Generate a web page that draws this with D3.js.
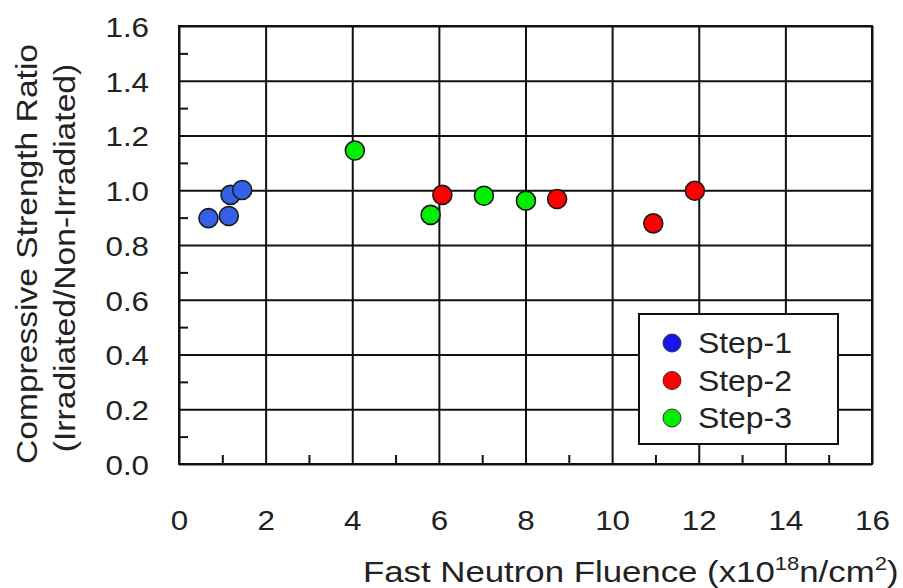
<!DOCTYPE html>
<html>
  <head>
    <style>
      body {
        margin: 0;
        background: #fff;
      }
      svg text {
        font-family: "Liberation Sans", Arial, sans-serif;
        fill: #222;
      }
    </style>
    <script src="https://d3js.org/d3.v7.min.js"></script>
  </head>
  <body>
    <script>
      // data
      const step1X = [0.68, 1.15, 1.19, 1.46];
      const step1Y = [0.898, 0.906, 0.983, 1.001];
      const step2X = [6.08, 8.73, 10.95, 11.91];
      const step2Y = [0.983, 0.968, 0.879, 0.998];
      const step3X = [4.06, 5.81, 7.04, 8.01];
      const step3Y = [1.145, 0.91, 0.98, 0.962];

      const xTicks = [0, 2, 4, 6, 8, 10, 12, 14, 16];
      const yTicks = [0, 0.2, 0.4, 0.6, 0.8, 1.0, 1.2, 1.4, 1.6];
      const xMinor = [1, 3, 5, 7, 9, 11, 13, 15];
      const yMinor = [0.1, 0.3, 0.5, 0.7, 0.9, 1.1, 1.3, 1.5];

      const seriesNames = ["Step-1", "Step-2", "Step-3"];
      const pointColors = ["#3560e8", "#ff0000", "#00ee00"];
      const legendColors = ["#1515e8", "#ff0000", "#00ee00"];

      const width = 903;
      const height = 588;
      const mLeft = 179,
        mTop = 26,
        mRight = 872,
        mBottom = 464;
      const sx = 1.1; // text looks a bit stretched sideways

      const svg = d3
        .select("body")
        .append("svg")
        .attr("width", width)
        .attr("height", height);

      const x = d3.scaleLinear().domain([0, 16]).range([mLeft, mRight]);
      const y = d3.scaleLinear().domain([0, 1.6]).range([mBottom, mTop]);

      function styleLines(g) {
        g.select(".domain").remove();
        g.selectAll("line").attr("stroke", "#111").attr("stroke-width", 2);
      }

      // grid
      svg
        .append("g")
        .attr("transform", "translate(0," + mBottom + ")")
        .call(d3.axisBottom(x).tickValues(xTicks).tickSize(-(mBottom - mTop)).tickFormat(""))
        .call(styleLines);

      svg
        .append("g")
        .attr("transform", "translate(" + mLeft + ",0)")
        .call(d3.axisLeft(y).tickValues(yTicks).tickSize(-(mRight - mLeft)).tickFormat(""))
        .call(styleLines);

      // minor ticks
      svg
        .append("g")
        .attr("transform", "translate(0," + mBottom + ")")
        .call(d3.axisBottom(x).tickValues(xMinor).tickSize(-9).tickFormat(""))
        .call(styleLines);

      svg
        .append("g")
        .attr("transform", "translate(" + mLeft + ",0)")
        .call(d3.axisLeft(y).tickValues(yMinor).tickSize(-9).tickFormat(""))
        .call(styleLines);

      svg
        .append("rect")
        .attr("x", mLeft)
        .attr("y", mTop)
        .attr("width", mRight - mLeft)
        .attr("height", mBottom - mTop)
        .attr("fill", "none")
        .attr("stroke", "#111")
        .attr("stroke-width", 2);

      // tick labels
      const xAxis = svg
        .append("g")
        .attr("transform", "translate(0," + mBottom + ")")
        .call(d3.axisBottom(x).tickValues(xTicks).tickSize(0).tickFormat(d3.format("d")));
      xAxis.select(".domain").remove();
      xAxis
        .selectAll("text")
        .attr("y", 66)
        .attr("dy", 0)
        .attr("transform", "scale(" + sx + ",1)")
        .style("font-size", "28.5px");

      const yAxis = svg
        .append("g")
        .attr("transform", "translate(" + mLeft + ",0)")
        .call(d3.axisLeft(y).tickValues(yTicks).tickSize(0).tickFormat(d3.format(".1f")));
      yAxis.select(".domain").remove();
      yAxis
        .selectAll("text")
        .attr("x", -30 / sx)
        .attr("dy", "0.36em")
        .attr("transform", "scale(" + sx + ",1)")
        .style("font-size", "28.5px");

      // axis titles
      const xt = svg
        .append("text")
        .attr("transform", "translate(363,582) scale(1.16,1)")
        .style("font-size", "30px");
      xt.append("tspan").text("Fast Neutron Fluence (x10");
      xt.append("tspan").attr("dy", -12).style("font-size", "19px").text("18");
      xt.append("tspan").attr("dy", 12).text("n/cm");
      xt.append("tspan").attr("dy", -12).style("font-size", "19px").text("2");
      xt.append("tspan").attr("dy", 12).text(")");

      svg
        .append("text")
        .attr("transform", "translate(36.5,254) rotate(-90) scale(1.12,1)")
        .attr("text-anchor", "middle")
        .style("font-size", "30px")
        .text("Compressive Strength Ratio");

      svg
        .append("text")
        .attr("transform", "translate(75,258) rotate(-90) scale(1.12,1)")
        .attr("text-anchor", "middle")
        .style("font-size", "30px")
        .text("(Irradiated/Non-Irradiated)");

      // points
      const series = [
        [step1X, step1Y],
        [step2X, step2Y],
        [step3X, step3Y],
      ];
      series.forEach((s, k) => {
        svg
          .append("g")
          .selectAll("circle")
          .data(d3.zip(s[0], s[1]))
          .enter()
          .append("circle")
          .attr("cx", (d) => x(d[0]))
          .attr("cy", (d) => y(d[1]))
          .attr("r", 9.5)
          .attr("fill", pointColors[k])
          .attr("stroke", "#1a1a1a")
          .attr("stroke-width", 1.6);
      });

      // legend
      const legend = svg.append("g").attr("transform", "translate(639,314)");
      legend
        .append("rect")
        .attr("width", 199)
        .attr("height", 130)
        .attr("fill", "#fff")
        .attr("stroke", "#111")
        .attr("stroke-width", 2);
      const item = legend
        .selectAll(".item")
        .data(seriesNames)
        .enter()
        .append("g")
        .attr("class", "item")
        .attr("transform", (d, i) => "translate(0," + (29 + i * 37.5) + ")");
      item
        .append("circle")
        .attr("cx", 33)
        .attr("cy", 0)
        .attr("r", 9)
        .attr("fill", (d, i) => legendColors[i])
        .attr("stroke", "#333")
        .attr("stroke-width", 1);
      item
        .append("text")
        .attr("transform", "translate(59,10) scale(" + sx + ",1)")
        .style("font-size", "29px")
        .text((d) => d);
    </script>
  </body>
</html>
